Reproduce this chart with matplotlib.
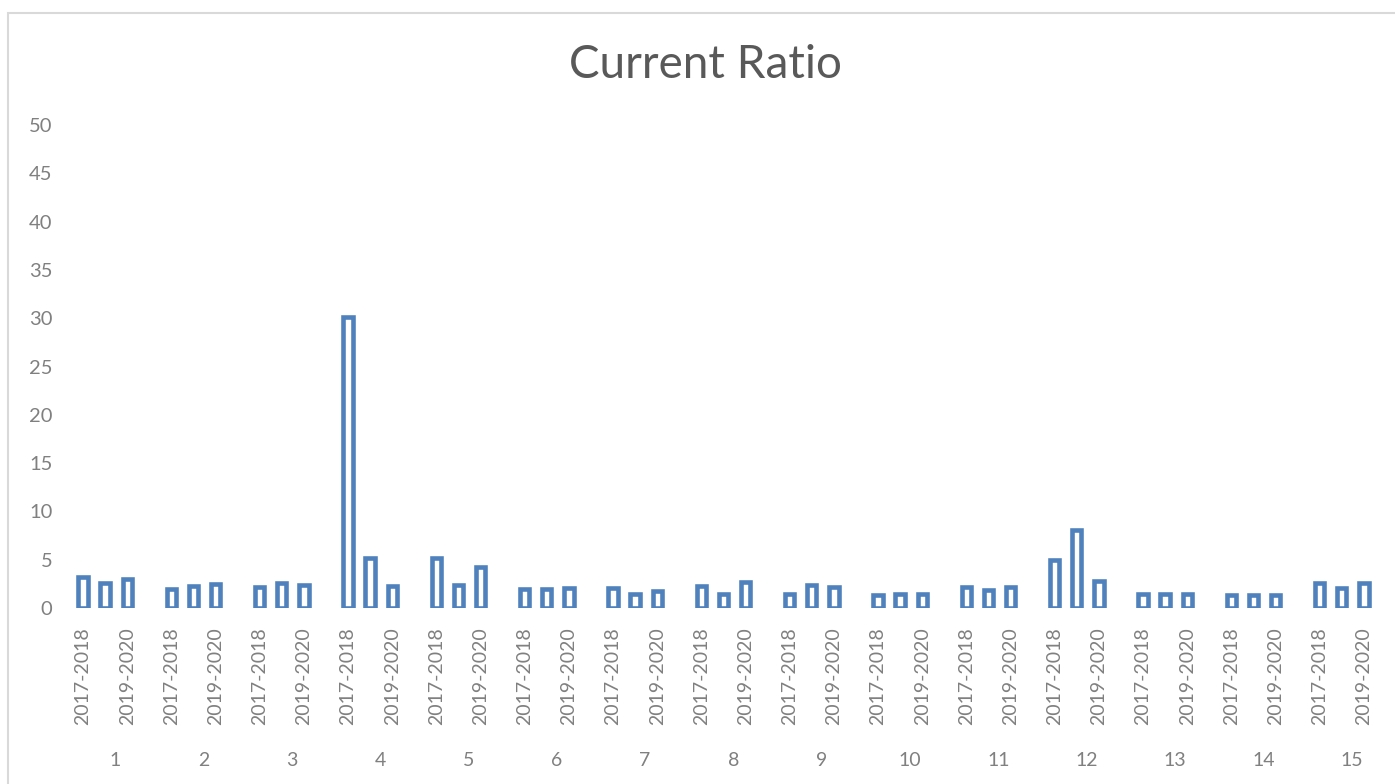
import numpy as np
import matplotlib.pyplot as plt
from matplotlib.patches import Rectangle

plt.rcParams['font.family'] = ['Lato', 'DejaVu Sans']

groups = [str(i) for i in range(1, 16)]
periods = ["2017-2018", "2018-2019", "2019-2020"]
ratio_2017_2018 = [3.2, 2.0, 2.15, 30.1, 5.2, 2.0, 2.05, 2.3, 1.5, 1.35, 2.15, 5.0, 1.4, 1.3, 2.55]
ratio_2018_2019 = [2.55, 2.25, 2.6, 5.15, 2.4, 2.0, 1.5, 1.5, 2.4, 1.4, 1.85, 8.05, 1.5, 1.35, 2.1]
ratio_2019_2020 = [3.0, 2.45, 2.35, 2.25, 4.25, 2.05, 1.8, 2.7, 2.15, 1.5, 2.2, 2.75, 1.5, 1.35, 2.6]

BLUE = "#4f81bd"
GREY = "#808080"

fig = plt.figure(figsize=(13.95, 7.84), dpi=100)
W, H = 1395, 784
ax = fig.add_axes([72 / W, (H - 608) / H, 1325 / W, 483 / H])

series = [ratio_2017_2018, ratio_2018_2019, ratio_2019_2020]
slots_per_group = 4
base = np.arange(len(groups)) * slots_per_group
for i, vals in enumerate(series):
    ax.bar(base + i, vals, width=0.42, facecolor="white", edgecolor=BLUE, linewidth=3.3)

ax.set_xlim(-0.5, len(groups) * slots_per_group - 0.5)
ax.set_ylim(0, 50)
ax.set_yticks(range(0, 51, 5))
ax.tick_params(axis="y", length=0, labelsize=14.5, labelcolor=GREY, pad=14)

xt = []
xl = []
for b in base:
    xt += [b, b + 2]
    xl += [periods[0], periods[2]]
ax.set_xticks(xt)
ax.set_xticklabels(xl, rotation=90, va="top", ha="center")
ax.tick_params(axis="x", length=0, labelsize=14, labelcolor=GREY, pad=14)

for b, g in zip(base, groups):
    ax.text(b + 1.45, -0.315, g, transform=ax.get_xaxis_transform(), ha="center", va="center",
            fontsize=14, color=GREY)

for s in ax.spines.values():
    s.set_visible(False)

fig.text(705 / W, 1 - 65 / H, "Current Ratio", ha="center", va="center", fontsize=33, color="#595959")

fig.patches.append(Rectangle((8 / W, -0.1), 1.2, 1 - 13 / H + 0.1, transform=fig.transFigure,
                             facecolor="none", edgecolor="#d9d9d9", linewidth=1.5))

fig.savefig("out.png", dpi=100)
